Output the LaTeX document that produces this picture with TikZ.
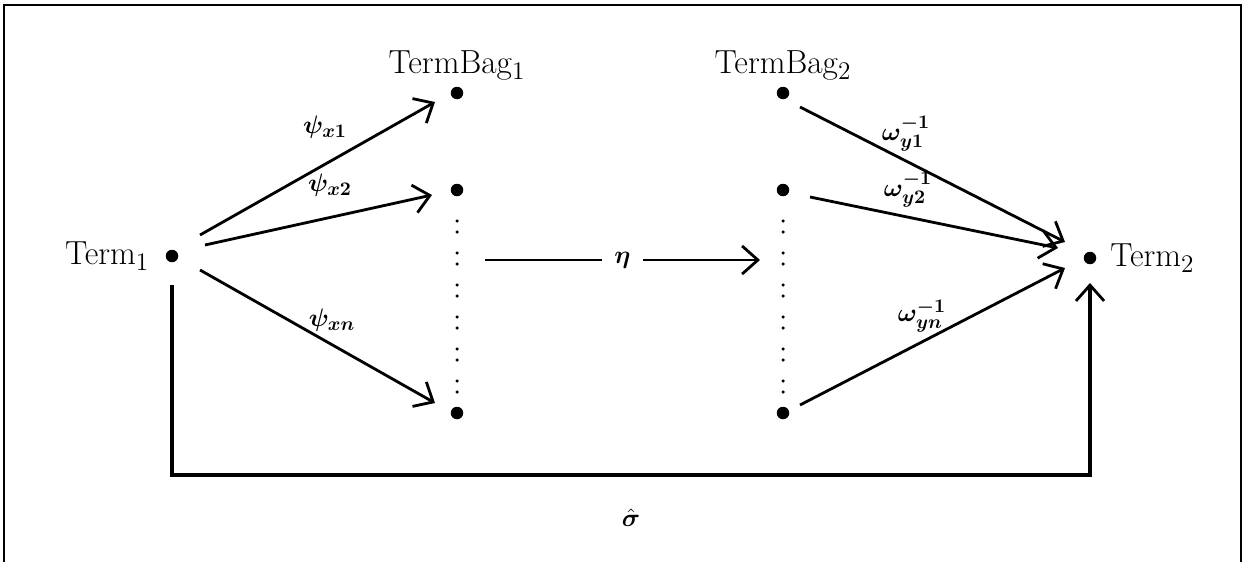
\documentclass[tikz,border=0pt]{standalone}
\usepackage{amsmath,bm}
\usepackage{tikz}
\usetikzlibrary{arrows.meta,calc,positioning}

\begin{document}
\begin{tikzpicture}[x=0.02cm,y=-0.02cm,
		font=\fontsize{19}{22}\selectfont,
		pt/.style={circle,fill,inner sep=0pt,minimum size=0.25cm},
		tick/.style={circle,fill,inner sep=0pt,minimum size=0.07cm},
		lab/.style={font=\fontsize{15}{18}\selectfont,inner sep=1pt},
		arr/.style={line width=1.6pt,-{Straight Barb[length=9pt,width=16pt,line width=1.6pt]}}]
	\useasboundingbox (0,0) rectangle (1246,561);
	
	% frame
	\draw[line width=1.5pt] (4,570) -- (4,5) -- (1241,5) -- (1241,570);
	
	% terms and bags
	\node[pt] (t1) at (172,256) {};
	\node[left=0.2cm of t1] (t1lab) {Term$_1$};
	\node[pt] (t2) at (1090,258) {};
	\node[right=0.15cm of t2] (t2lab) {Term$_2$};
	
	\node[pt] (b1a) at (457,93) {};
	\node[pt] (b1b) at (457,190) {};
	\node[pt] (b1n) at (457,413) {};
	\node[above=0cm of b1a] (bag1) {TermBag$_1$};
	
	\node[pt] (b2a) at (783,93) {};
	\node[pt] (b2b) at (783,190) {};
	\node[pt] (b2n) at (783,413) {};
	\node[above=0cm of b2a] (bag2) {TermBag$_2$};
	
	% dotted columns
	\foreach \y in {221,253,285,317,349,381} {
		\node[tick] (d1a\y) at (457,\y) {};
		\node[tick] (d1b\y) at (457,\y+11) {};
		\node[tick] (d2a\y) at (783,\y) {};
		\node[tick] (d2b\y) at (783,\y+11) {};
	}
	
	% psi arrows
	\draw[arr] ($(t1)+(28,-21)$) -- ($(b1a)+(-22,9)$);
	\draw[arr] ($(t1)+(33,-11)$) -- ($(b1b)+(-25,5)$);
	\draw[arr] ($(t1)+(28,14)$) -- ($(b1n)+(-22,-10)$);
	\node[lab] (psi1) at (325,127) {$\bm{\psi}_{\bm{x1}}$};
	\node[lab] (psi2) at (330,185) {$\bm{\psi}_{\bm{x2}}$};
	\node[lab] (psin) at (332,320) {$\bm{\psi}_{\bm{xn}}$};
	
	% eta
	\coordinate (c1) at (457,260);
	\coordinate (c2) at (783,260);
	\draw[arr] ($(c1)+(28,0)$) -- node[lab,fill=white,inner sep=7pt] (eta) {$\bm{\eta}$} ($(c2)+(-23,0)$);
	
	% omega arrows
	\draw[arr] ($(b2a)+(17,14)$) -- ($(t2)+(-25,-16)$);
	\draw[arr] ($(b2b)+(27,7)$) -- ($(t2)+(-32,-10)$);
	\draw[arr] ($(b2n)+(17,-8)$) -- ($(t2)+(-25,10)$);
	\node[lab] (om1) at (906,134) {$\bm{\omega}^{\bm{-1}}_{\bm{y1}}$};
	\node[lab] (om2) at (908,190) {$\bm{\omega}^{\bm{-1}}_{\bm{y2}}$};
	\node[lab] (omn) at (922,316) {$\bm{\omega}^{\bm{-1}}_{\bm{yn}}$};
	
	% sigma hat
	\draw[arr,line width=2pt] ($(t1)+(0,29)$) -- ++(0,190) -| ($(t2)+(0,25)$);
	\node[lab] (sig) at (631,518) {$\hat{\bm{\sigma}}$};
	
\end{tikzpicture}
\end{document}
